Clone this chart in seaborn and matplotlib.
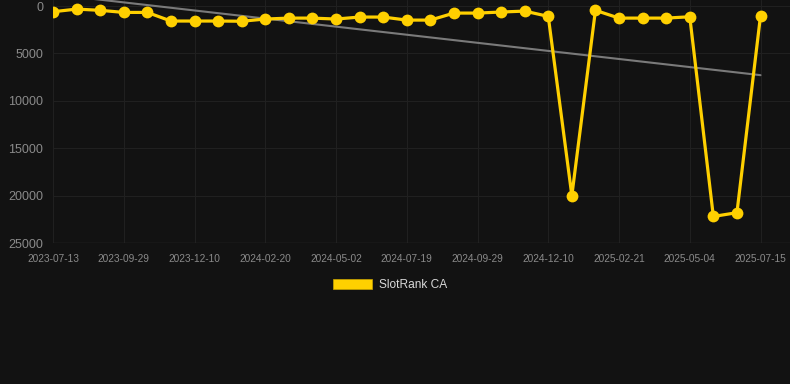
import numpy as np
import pandas as pd
import seaborn as sns
import matplotlib
matplotlib.use("Agg")
import matplotlib.pyplot as plt
from matplotlib.patches import Patch

# rank values (lower is better, axis reversed)
ranks = [600, 320, 450, 670, 670, 1580, 1580, 1580, 1600, 1370,
         1270, 1270, 1370, 1160, 1160, 1480, 1480, 740, 740, 630,
         530, 1090, 20000, 450, 1270, 1270, 1270, 1130, 22200, 21800,
         1020]
tick_labels = ['2023-07-13', '2023-09-29', '2023-12-10', '2024-02-20',
               '2024-05-02', '2024-07-19', '2024-09-29', '2024-12-10',
               '2025-02-21', '2025-05-04', '2025-07-15']
y_ticks = [0, 5000, 10000, 15000, 20000, 25000]
series_name = 'SlotRank CA'

df = pd.DataFrame({'idx': np.arange(len(ranks)), 'rank': ranks})

bg = '#121212'
yellow = '#FFD000'

sns.set_style('dark')
plt.rcParams['font.family'] = ['Liberation Sans', 'DejaVu Sans']

fig = plt.figure(figsize=(7.9, 3.84), dpi=100, facecolor=bg)
ax = fig.add_axes([53 / 790, 1 - 243 / 384, 1 - 53 / 790, 243 / 384])
ax.set_facecolor(bg)

# trend line (linear fit over the data)
sns.regplot(data=df, x='idx', y='rank', scatter=False, ci=None, truncate=True,
            ax=ax, line_kws={'color': '#7a7a7a', 'lw': 1.5, 'zorder': 2})

sns.lineplot(data=df, x='idx', y='rank', ax=ax, color=yellow, lw=2.3,
             marker='o', markersize=8.5, markeredgewidth=0, zorder=3)

ax.set_xlim(0, 31.25)
ax.set_ylim(25000, -640)
ax.set_xticks(np.arange(0, len(ranks), 3))
ax.set_xticklabels(tick_labels)
ax.set_yticks(y_ticks)
ax.set_yticklabels([str(v) for v in y_ticks])
ax.tick_params(axis='both', length=0, colors='#8a8a8a', labelsize=7.3)
ax.tick_params(axis='x', pad=8)
ax.tick_params(axis='y', pad=7, labelsize=9)
ax.grid(True, color='#202020', lw=0.8)
ax.set_axisbelow(True)
for s in ax.spines.values():
    s.set_visible(False)
ax.axhline(25000, color='#2e2e2e', lw=1, zorder=1)
ax.set_xlabel('')
ax.set_ylabel('')

handle = Patch(facecolor=yellow, edgecolor='#c9a400', lw=0.5)
fig.legend([handle], [series_name], loc='center', bbox_to_anchor=(390 / 790, 1 - 285 / 384),
           frameon=False, handlelength=3.3, handleheight=0.95, handletextpad=0.6,
           fontsize=8.6, labelcolor='#d8d8d8')

fig.savefig('out.png', dpi=100, facecolor=bg)
